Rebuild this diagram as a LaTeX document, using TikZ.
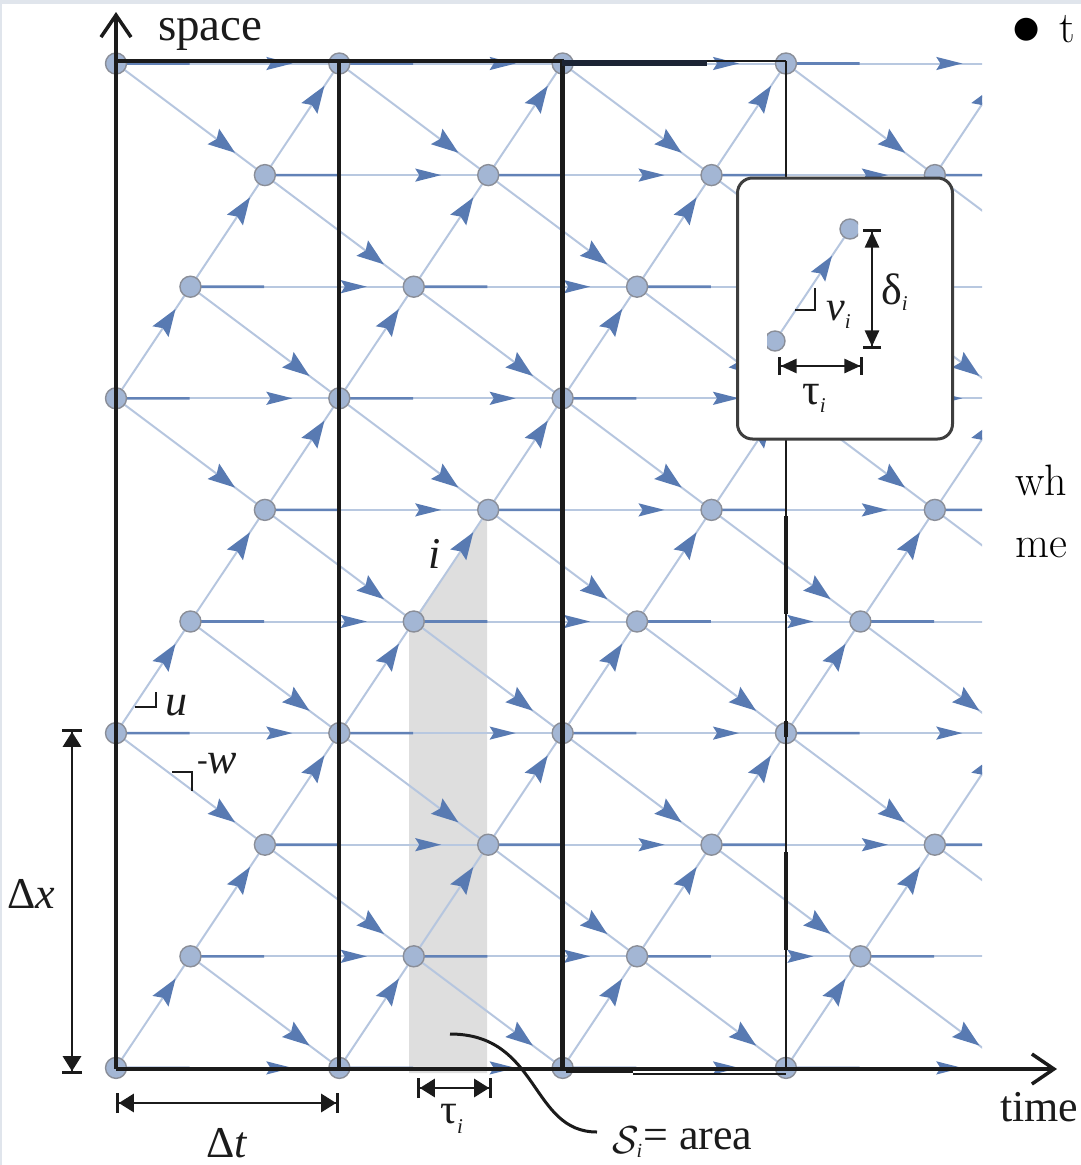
\documentclass[tikz,border=0pt]{standalone}
\usepackage{graphicx}
\usepackage{fontspec}
\newfontfamily\tnr{Liberation Serif}
\newfontfamily\djv{DejaVu Sans}
\usetikzlibrary{arrows.meta,decorations.markings,calc}
\definecolor{nodefill}{RGB}{163,182,212}
\definecolor{nodeedge}{RGB}{138,142,152}
\definecolor{arrblue}{RGB}{88,122,178}
\definecolor{diaglight}{RGB}{182,198,223}
\definecolor{hdarkc}{RGB}{98,130,183}
\definecolor{hlightc}{RGB}{184,200,224}
\definecolor{areagray}{RGB}{222,222,222}
\definecolor{ink}{RGB}{27,27,27}
\definecolor{navyink}{RGB}{28,36,52}
\definecolor{boxedge}{RGB}{62,62,62}
\definecolor{topband}{RGB}{224,229,236}
\begin{document}
\begin{tikzpicture}[x=1pt,y=-1pt,
  diag/.style={draw=diaglight, line width=2pt, postaction={decorate},
    decoration={markings, mark=at position 0.8 with {\arrow{Stealth[length=27pt,width=19pt,inset=4pt,color=arrblue]}}}},
  insetedge/.style={draw=diaglight, line width=2pt, postaction={decorate},
    decoration={markings, mark=at position 0.76 with {\arrow{Stealth[length=25pt,width=17pt,inset=4pt,color=arrblue]}}}},
  hor/.style={draw=hlightc, line width=2pt, postaction={decorate},
    decoration={markings, mark=at position 0.79 with {\arrow{Stealth[length=26pt,width=13pt,inset=4pt,color=arrblue]}}}},
  hordark/.style={draw=hdarkc, line width=2.6pt},
  lat/.style={circle, fill=nodefill, draw=nodeedge, line width=1.4pt, minimum size=21pt, inner sep=0pt},
  dim/.style={draw=ink, line width=2.8pt,
    arrows={{Bar[width=20pt,line width=2.8pt] Triangle[length=15pt,width=18pt]}-{Triangle[length=15pt,width=18pt] Bar[width=20pt,line width=2.8pt]}}},
  dimsmall/.style={draw=ink, line width=2.6pt,
    arrows={{Bar[width=18pt,line width=2.6pt] Triangle[length=16pt,width=14pt]}-{Triangle[length=16pt,width=14pt] Bar[width=18pt,line width=2.6pt]}}},
  axis/.style={draw=ink, line width=3.5pt, -{Straight Barb[length=22pt,width=30pt,line width=3.5pt]}},
  lbl/.style={inner sep=0pt, anchor=base west, text=ink, font=\tnr\fontsize{44}{44}\selectfont},
  lmlbl/.style={inner sep=0pt, anchor=base west, text=black, font=\fontsize{44}{44}\selectfont}
]
\useasboundingbox (0,0) rectangle (1081,1165);
\fill[topband] (0,0) rectangle (1081,4);
\fill[topband] (0,0) rectangle (2,1165);

% shaded area S_i
\fill[areagray] (409,1073) -- (409,626) -- (487,514) -- (487,1073) -- cycle;

% lattice
\begin{scope}
\clip (0,0) rectangle (982,1165);
\foreach \r in {0,...,9}{\foreach \c in {0,...,14}{
  \pgfmathtruncatemacro\m{mod(\c+\r,3)}
  \ifnum\m=0 \coordinate (p-\c-\r) at ({116+74.44*\c},{63.5+111.6*\r}); \fi}}
\foreach \r in {0,...,9}{\foreach \c in {0,...,11}{
  \pgfmathtruncatemacro\m{mod(\c+\r,3)}
  \ifnum\m=0
    \pgfmathtruncatemacro\ca{\c+1}
    \pgfmathtruncatemacro\cb{\c+2}
    \pgfmathtruncatemacro\cc{\c+3}
    \pgfmathtruncatemacro\ru{\r-1}
    \pgfmathtruncatemacro\rd{\r+1}
    \ifnum\r>0 \draw[diag] (p-\c-\r) -- (p-\ca-\ru); \fi
    \ifnum\r<9 \draw[diag] (p-\c-\r) -- (p-\cb-\rd); \fi
    \draw[hor] (p-\c-\r) -- (p-\cc-\r);
    \draw[hordark] (p-\c-\r) -- ($(p-\c-\r)!0.33!(p-\cc-\r)$);
  \fi}}
\foreach \r in {0,...,9}{\foreach \c in {0,...,11}{
  \pgfmathtruncatemacro\m{mod(\c+\r,3)}
  \ifnum\m=0 \node[lat] (n-\c-\r) at (p-\c-\r) {}; \fi}}
\end{scope}

% frame lines
\draw[ink, line width=4pt] (339,61) -- (339,1069);
\draw[ink, line width=5pt] (562,61) -- (562,1069);
\draw[ink, line width=1.8pt] (786,61) -- (786,1069);
\draw[ink, line width=4pt] (786,516) -- (786,614);
\draw[ink, line width=4pt] (786,721) -- (786,737);
\draw[ink, line width=4pt] (786,852) -- (786,950);
\draw[ink, line width=4pt] (114,61) -- (564,61);
\draw[navyink, line width=6pt] (562,63) -- (707,63);
\draw[ink, line width=2pt] (707,61) -- (786,61);
\draw[ink, line width=6.5pt] (566,1070) -- (633,1070);
\draw[ink, line width=1.5pt] (633,1074) -- (786,1074);

% axes
\coordinate (origin) at (116,1069);
\coordinate (ytip) at (116,12);
\coordinate (xtip) at (1057,1069);
\draw[axis] (origin) -- (ytip);
\draw[axis] (origin) -- (xtip);
\node[lbl, font=\tnr\fontsize{47}{47}\selectfont] (lspace) at (158,40) {space};
\node[lbl] (ltime) at (1000,1121) {time};

% u and -w labels
\draw[ink, line width=2.6pt] (135,707) -- (156,707) -- (156,692);
\node[lbl, font=\tnr\itshape\fontsize{44}{44}\selectfont] (lu) at (165,715) {u};
\draw[ink, line width=2.6pt] (172,772) -- (192,772) -- (192,791);
\node[lbl, font=\tnr\itshape\fontsize{44}{44}\selectfont] (lw) at (197,773) {\raisebox{3pt}{\upshape\fontsize{32}{32}\selectfont -}w};
\node[lbl, font=\tnr\itshape\fontsize{44}{44}\selectfont] (li) at (428,568) {i};

% dimension Delta x
\coordinate (dxa) at (72,729);
\coordinate (dxb) at (72,1074);
\draw[dim] (dxa) -- (dxb);
\node[lbl] (ldx) at (7,908) {Δ\textit{x}};
% dimension Delta t
\coordinate (dta) at (116,1103);
\coordinate (dtb) at (339,1103);
\draw[dim] (dta) -- (dtb);
\node[lbl] (ldt) at (206,1157) {Δ\textit{t}};
% dimension tau_i
\coordinate (taa) at (417,1088);
\coordinate (tab) at (492,1088);
\draw[dim] (taa) -- (tab);
\node[lbl, font=\tnr\fontsize{42}{42}\selectfont] (ltau) at (440,1123) {τ\raisebox{-10pt}{\fontsize{21}{21}\selectfont\itshape i}};

% S_i = area
\coordinate (cs) at (450,1034);
\coordinate (ce) at (597,1132);
\draw[ink, line width=3pt] (cs) .. controls (540,1034) and (530,1132) .. (ce);
\node[lbl] (larea) at (612,1149) {\raisebox{-4pt}{\scalebox{3.9}{\fontsize{10}{12}\selectfont$\mathcal{S}$}}\kern-2pt\raisebox{-8pt}{\fontsize{20}{20}\selectfont\itshape i}\kern1pt= area};

% inset
\node[draw=boxedge, line width=3pt, fill=white, rounded corners=15pt,
      minimum width=215pt, minimum height=261pt, inner sep=0pt] (inset) at (845,308.5) {};
\coordinate (ia) at (775,341);
\coordinate (ib) at (850,229);
\draw[insetedge] (ia) -- (ib);
\begin{scope}
\clip (767,215) rectangle (858,352);
\node[lat, minimum size=20pt] (na) at (ia) {};
\node[lat, minimum size=20pt] (nb) at (ib) {};
\end{scope}
\draw[ink, line width=2.6pt] (795,310) -- (815,310) -- (815,288);
\node[lbl, font=\tnr\itshape\fontsize{42}{42}\selectfont] (lv) at (826,320) {v\raisebox{-8pt}{\fontsize{21}{21}\selectfont i}};
\coordinate (dda) at (872,229);
\coordinate (ddb) at (872,349);
\draw[dimsmall] (dda) -- (ddb);
\node[lbl, font=\tnr\fontsize{44}{44}\selectfont] (ld) at (881,304) {δ\raisebox{-6pt}{\fontsize{21}{21}\selectfont\itshape i}};
\coordinate (dta2) at (778,366);
\coordinate (dtb2) at (863,366);
\draw[dimsmall] (dta2) -- (dtb2);
\node[lbl, font=\tnr\fontsize{44}{44}\selectfont] (lt2) at (802,404) {τ\raisebox{-8pt}{\fontsize{21}{21}\selectfont\itshape i}};

% surrounding text (cut off)
\node[inner sep=0pt, font=\djv\fontsize{30}{30}\selectfont] (bul) at (1027,30) {●};
\node[lmlbl] (lt) at (1059,42) {t};
\node[lmlbl] (lwh) at (1015,495) {wh};
\node[lmlbl] (lme) at (1015,557) {me};
\end{tikzpicture}
\end{document}
